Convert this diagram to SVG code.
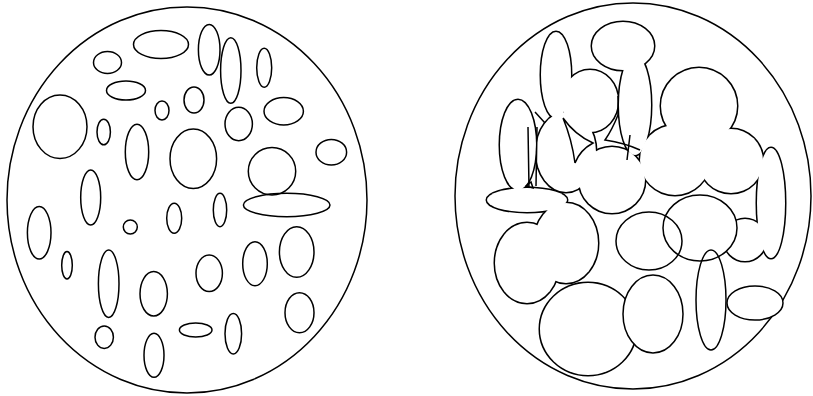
<svg xmlns="http://www.w3.org/2000/svg" width="813" height="396" viewBox="0 0 813 396">
<style>
ellipse{fill:none;stroke:#000;stroke-width:1.5}
.w{fill:#fff}
.s ellipse{fill:none;stroke:#000;stroke-width:3}
.f ellipse{fill:#fff;stroke:none}
.g{fill:none;stroke:#000;stroke-width:1.5}
</style>
<rect width="813" height="396" fill="#fff"/>
<g id="left-disc">
<ellipse cx="187" cy="200" rx="180" ry="193"/>
<ellipse cx="161" cy="44.5" rx="27.5" ry="14"/>
<ellipse cx="107.5" cy="62.5" rx="14" ry="11"/>
<ellipse cx="126" cy="90.5" rx="19.5" ry="9.5"/>
<ellipse cx="60" cy="126.7" rx="27" ry="31.7"/>
<ellipse cx="103.7" cy="132" rx="6.7" ry="12.8"/>
<ellipse cx="162" cy="110.5" rx="7" ry="9.5"/>
<ellipse cx="137" cy="152" rx="11.7" ry="27.8"/>
<ellipse cx="194" cy="100" rx="10" ry="13"/>
<ellipse cx="193.3" cy="158.8" rx="23.3" ry="29.7"/>
<ellipse cx="90.7" cy="197.5" rx="10" ry="27.5"/>
<ellipse cx="209.2" cy="49.7" rx="10.8" ry="25.3"/>
<ellipse cx="230.8" cy="70.5" rx="10.2" ry="32.8"/>
<ellipse cx="264.2" cy="67.8" rx="7.5" ry="19.5"/>
<ellipse cx="283.7" cy="111.3" rx="19.7" ry="13.7"/>
<ellipse cx="238.7" cy="124" rx="13.7" ry="16.7"/>
<ellipse cx="331.3" cy="152.2" rx="15.3" ry="12.8"/>
<ellipse cx="272" cy="171.3" rx="23.7" ry="23.7"/>
<ellipse cx="286.7" cy="205" rx="43.3" ry="11.7"/>
<ellipse cx="220" cy="210" rx="6.7" ry="16.7"/>
<ellipse cx="39.2" cy="232.8" rx="11.8" ry="26.2"/>
<ellipse cx="130.3" cy="227" rx="7" ry="7"/>
<ellipse cx="174.2" cy="218.3" rx="7.5" ry="15"/>
<ellipse cx="67" cy="265.3" rx="5.3" ry="13.7"/>
<ellipse cx="108.7" cy="283.7" rx="10.3" ry="33.7"/>
<ellipse cx="153.7" cy="293.8" rx="13.7" ry="22.2"/>
<ellipse cx="104.2" cy="337.2" rx="9.2" ry="11.2"/>
<ellipse cx="154" cy="355.3" rx="10" ry="22"/>
<ellipse cx="195.7" cy="330" rx="16.3" ry="7"/>
<ellipse cx="209.2" cy="273.3" rx="13.2" ry="18.3"/>
<ellipse cx="255" cy="263.7" rx="12.3" ry="22"/>
<ellipse cx="296.7" cy="252" rx="17.3" ry="25.3"/>
<ellipse cx="299.5" cy="312.7" rx="14.5" ry="20"/>
<ellipse cx="233.3" cy="333.7" rx="8.3" ry="20.3"/>
</g>
<g id="right-disc">
<ellipse cx="633" cy="196" rx="178" ry="193"/>
<g class="s">
<ellipse cx="623" cy="46" rx="31" ry="24"/>
<ellipse cx="635" cy="105" rx="16" ry="50"/>
<ellipse cx="556" cy="75" rx="15" ry="43"/>
<ellipse cx="590" cy="101" rx="28" ry="31"/>
<ellipse cx="699" cy="106" rx="38" ry="38"/>
<ellipse cx="518" cy="145" rx="18" ry="45"/>
<ellipse cx="566" cy="152" rx="30" ry="40"/>
<ellipse cx="612" cy="180" rx="33" ry="33"/>
<ellipse cx="675" cy="160" rx="35" ry="35"/>
<ellipse cx="731" cy="161" rx="32" ry="32"/>
<ellipse cx="771" cy="203" rx="14" ry="55"/>
<ellipse cx="527" cy="200" rx="40" ry="12"/>
<ellipse cx="566" cy="243" rx="32" ry="40"/>
<ellipse cx="527" cy="263" rx="32" ry="40"/>
<ellipse cx="745" cy="240" rx="21" ry="21"/>
<ellipse cx="588" cy="329" rx="48" ry="46"/>
</g>
<g class="f">
<ellipse cx="623" cy="46" rx="31" ry="24"/>
<ellipse cx="635" cy="105" rx="16" ry="50"/>
<ellipse cx="556" cy="75" rx="15" ry="43"/>
<ellipse cx="590" cy="101" rx="28" ry="31"/>
<ellipse cx="699" cy="106" rx="38" ry="38"/>
<ellipse cx="518" cy="145" rx="18" ry="45"/>
<ellipse cx="566" cy="152" rx="30" ry="40"/>
<ellipse cx="612" cy="180" rx="33" ry="33"/>
<ellipse cx="675" cy="160" rx="35" ry="35"/>
<ellipse cx="731" cy="161" rx="32" ry="32"/>
<ellipse cx="771" cy="203" rx="14" ry="55"/>
<ellipse cx="527" cy="200" rx="40" ry="12"/>
<ellipse cx="566" cy="243" rx="32" ry="40"/>
<ellipse cx="527" cy="263" rx="32" ry="40"/>
<ellipse cx="745" cy="240" rx="21" ry="21"/>
<ellipse cx="588" cy="329" rx="48" ry="46"/>
<ellipse cx="649" cy="241" rx="33" ry="29"/>
<ellipse cx="700" cy="228" rx="37" ry="33"/>
</g>
<path class="g" d="M528 127 L529 188 M537 127 L536 186 M526 186 L531 182 L533 188 Z M535 112 L545 123 M563 118 Q575 135 593 143 Q580 150 575 163 Q572 140 563 118 M618 96 L618 115 Q612 130 605 140 Q625 143 640 150 M630 135 L627 160"/>
<ellipse class="w" cx="653" cy="314" rx="30" ry="39"/>
<ellipse class="w" cx="755" cy="303" rx="28" ry="17"/>
<ellipse class="w" cx="711" cy="300" rx="15" ry="50"/>
<ellipse cx="649" cy="241" rx="33" ry="29"/>
<ellipse cx="700" cy="228" rx="37" ry="33"/>
</g>
</svg>
